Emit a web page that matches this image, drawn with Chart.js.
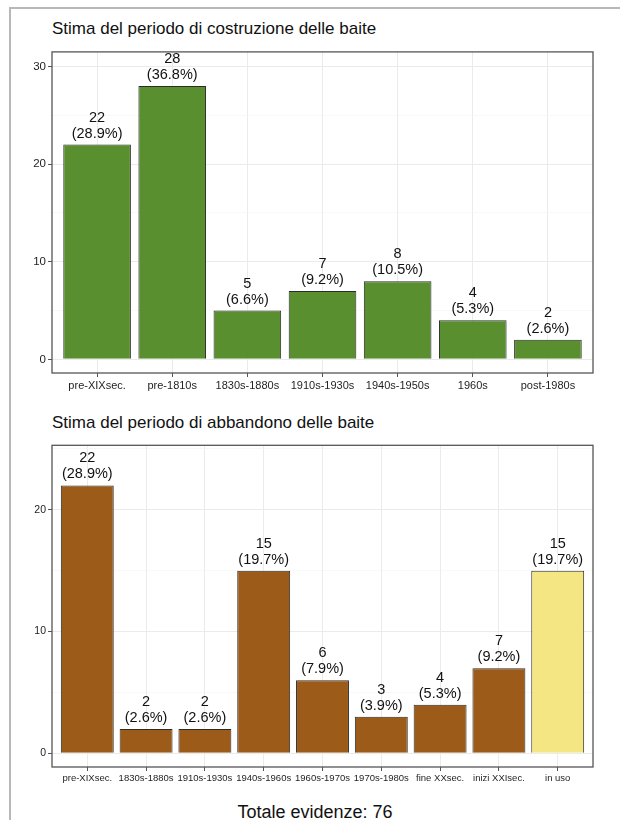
<!DOCTYPE html>
<html>
<head>
<meta charset="utf-8">
<script src="https://cdn.jsdelivr.net/npm/chart.js@4.4.1/dist/chart.umd.min.js"></script>
<style>
  body { margin: 0; width: 620px; height: 820px; background: #fff; position: relative; overflow: hidden;
         font-family: 'Liberation Sans', Arial, sans-serif; }
  .frame { position: absolute; left: 9px; top: 7px; width: 640px; height: 840px;
           border-top: 2px solid #b8b8b8; border-left: 2px solid #b8b8b8; }
  .titolo { position: absolute; left: 52px; font-size: 17px; line-height: 20px; color: #111; white-space: nowrap; }
  canvas { position: absolute; left: 0; }
  .totale { position: absolute; left: 0; width: 630px; top: 801px; text-align: center;
            font-size: 18px; line-height: 22px; color: #111; }
</style>
</head>
<body>
<div class="frame"></div>
<div class="titolo" style="top:19px">Stima del periodo di costruzione delle baite</div>
<canvas id="costruzione" width="620" height="352" style="top:43px"></canvas>
<div class="titolo" style="top:413px">Stima del periodo di abbandono delle baite</div>
<canvas id="abbandono" width="620" height="352" style="top:437px"></canvas>
<div class="totale">Totale evidenze: 76</div>

<script>
// dati: periodo di costruzione
const costruzioneLabels = ['pre-XIXsec.', 'pre-1810s', '1830s-1880s', '1910s-1930s', '1940s-1950s', '1960s', 'post-1980s'];
const costruzioneValues = [22, 28, 5, 7, 8, 4, 2];
const costruzionePct = ['(28.9%)', '(36.8%)', '(6.6%)', '(9.2%)', '(10.5%)', '(5.3%)', '(2.6%)'];
const costruzioneTicks = [0, 10, 20, 30];

// dati: periodo di abbandono
const abbandonoLabels = ['pre-XIXsec.', '1830s-1880s', '1910s-1930s', '1940s-1960s', '1960s-1970s', '1970s-1980s', 'fine XXsec.', 'inizi XXIsec.', 'in uso'];
const abbandonoValues = [22, 2, 2, 15, 6, 3, 4, 7, 15];
const abbandonoPct = ['(28.9%)', '(2.6%)', '(2.6%)', '(19.7%)', '(7.9%)', '(3.9%)', '(5.3%)', '(9.2%)', '(19.7%)'];
const abbandonoTicks = [0, 10, 20];

// colori
const verde = '#5a8f2f';
const marrone = '#9c5b18';
const giallo = '#f3e683';

const FONT = "'Liberation Sans', Arial, sans-serif";

// etichette sopra le barre + cornice del pannello
const etichettePlugin = {
    id: 'etichette',
    afterDatasetsDraw(chart) {
        const ctx = chart.ctx;
        const pcts = chart.options.plugins.etichette.pcts;
        const meta = chart.getDatasetMeta(0);
        ctx.save();
        ctx.fillStyle = '#111';
        ctx.font = '14.5px ' + FONT;
        ctx.textAlign = 'center';
        ctx.textBaseline = 'middle';
        meta.data.forEach((bar, i) => {
            const v = chart.data.datasets[0].data[i].y;
            ctx.fillText(String(v), bar.x, bar.y - 27);
            ctx.fillText(pcts[i], bar.x, bar.y - 11);
        });
        ctx.restore();
    },
    afterDraw(chart) {
        const a = chart.chartArea;
        const ctx = chart.ctx;
        ctx.save();
        ctx.strokeStyle = '#555';
        ctx.lineWidth = 1.3;
        ctx.strokeRect(a.left, a.top, a.right - a.left, a.bottom - a.top);
        ctx.restore();
    }
};

function creaGrafico(id, labels, values, pcts, colors, yMin, yMax, yTicks, xSize, ySize) {
    const n = labels.length;
    return new Chart(document.getElementById(id), {
        type: 'bar',
        data: {
            datasets: [{
                data: values.map((v, i) => ({ x: i, y: v })),
                backgroundColor: colors,
                borderColor: '#2b2b2b',
                borderWidth: 1,
                categoryPercentage: 1,
                barPercentage: 0.9
            }]
        },
        options: {
            responsive: false,
            animation: false,
            devicePixelRatio: 1,
            layout: { padding: { left: 0, right: 27, top: 0, bottom: 0 } },
            plugins: {
                legend: { display: false },
                tooltip: { enabled: false },
                etichette: { pcts: pcts }
            },
            scales: {
                x: {
                    type: 'linear',
                    min: -0.6,
                    max: n - 0.4,
                    offset: false,
                    border: { display: false },
                    grid: { offset: false, color: '#ebebeb', lineWidth: 1, tickLength: 4, tickColor: '#555' },
                    ticks: {
                        stepSize: 1,
                        includeBounds: false,
                        autoSkip: false,
                        maxRotation: 0,
                        padding: 2,
                        color: '#1e1e1e',
                        font: { family: FONT, size: xSize },
                        callback: v => labels[v] !== undefined ? labels[v] : ''
                    },
                    afterFit(scale) { scale.height = 22; }
                },
                y: {
                    min: yMin,
                    max: yMax,
                    border: { display: false },
                    grid: {
                        color: ctx => yTicks.includes(ctx.tick.value) ? '#ebebeb' : '#f3f3f3',
                        lineWidth: ctx => yTicks.includes(ctx.tick.value) ? 1 : 0.6,
                        tickLength: 4,
                        tickColor: ctx => yTicks.includes(ctx.tick.value) ? '#555' : 'rgba(0,0,0,0)'
                    },
                    ticks: {
                        stepSize: 5,
                        includeBounds: false,
                        padding: 2,
                        color: '#1e1e1e',
                        font: { family: FONT, size: ySize },
                        callback: v => yTicks.includes(v) ? String(v) : ''
                    },
                    afterFit(scale) { scale.width = 52; }
                }
            }
        },
        plugins: [etichettePlugin]
    });
}

creaGrafico('costruzione', costruzioneLabels, costruzioneValues, costruzionePct,
    costruzioneLabels.map(() => verde), -1.4, 31.5, costruzioneTicks, 11, 11.5);

creaGrafico('abbandono', abbandonoLabels, abbandonoValues, abbandonoPct,
    abbandonoLabels.map((l, i) => i === abbandonoLabels.length - 1 ? giallo : marrone), -1.12, 25.3, abbandonoTicks, 9.5, 10.5);
</script>
</body>
</html>
